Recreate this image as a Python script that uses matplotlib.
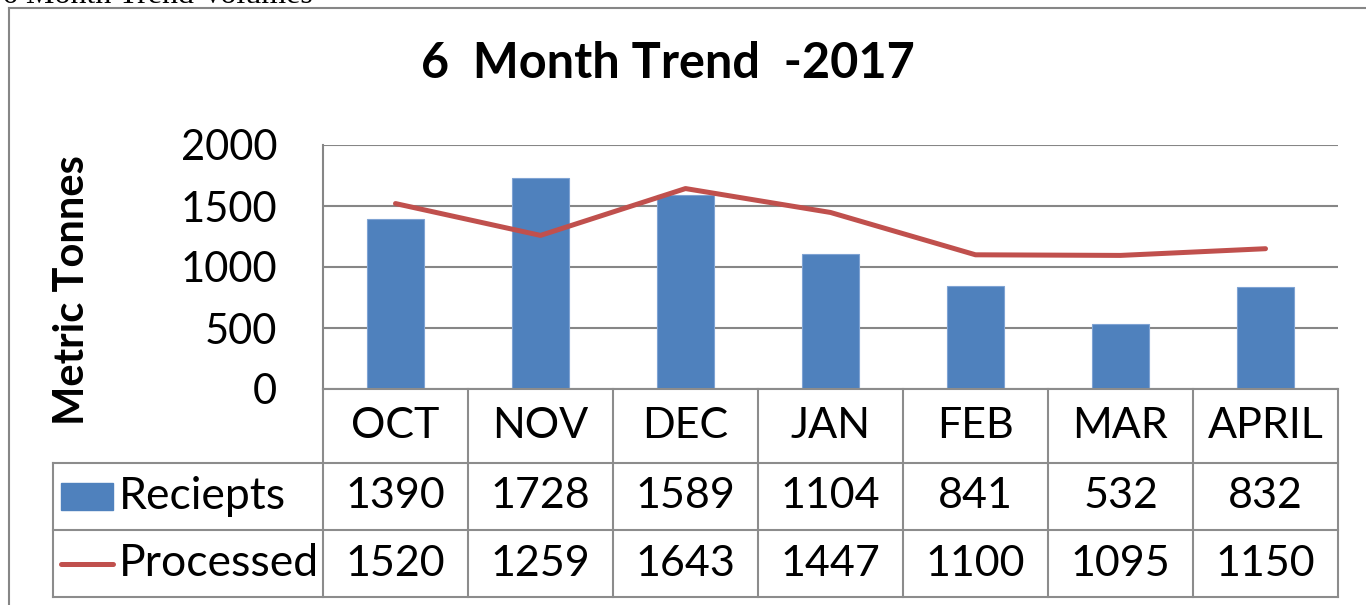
import matplotlib
matplotlib.use("Agg")
import matplotlib.pyplot as plt
import matplotlib.transforms as mtransforms
from matplotlib.patches import Rectangle
from matplotlib.lines import Line2D

months = ["OCT", "NOV", "DEC", "JAN", "FEB", "MAR", "APRIL"]
receipts = [1390, 1728, 1589, 1104, 841, 532, 832]
processed = [1520, 1259, 1643, 1447, 1100, 1095, 1150]
series_names = ["Reciepts", "Processed"]
yticks = [0, 500, 1000, 1500, 2000]
title = "6  Month Trend  -2017"
ylabel = "Metric Tonnes"
page_title = "6 Month Trend Volumes"

W, H = 1366, 605
BAR_C = "#4F81BD"
LINE_C = "#C0504D"
GRID_C = "#868686"
FONT = "Lato"
FS = 31

fig = plt.figure(figsize=(W / 100, H / 100), dpi=100)
fig.patch.set_facecolor("white")

def fx(px):
    return px / W

def fy(py):
    return 1 - py / H

# plot area
L, R, T, B = 323, 1338, 145, 389
ax = fig.add_axes([fx(L), fy(B), fx(R) - fx(L), fy(T) - fy(B)])
x = list(range(len(months)))
ax.bar(x, receipts, width=0.39, color=BAR_C, edgecolor="#7FA3D3", linewidth=0.8, zorder=3)
ax.plot(x, processed, color=LINE_C, lw=3.6, solid_capstyle="round", solid_joinstyle="round", zorder=4)
ax.set_xlim(-0.5, len(months) - 0.5)
ax.set_ylim(0, 2000)
ax.set_yticks(yticks)
ax.set_yticklabels([str(t) for t in yticks], fontsize=30, fontfamily=FONT)
ax.tick_params(axis="y", length=0, pad=33)
ax.set_xticks([])
ax.grid(axis="y", color=GRID_C, lw=1.5, zorder=0)
for s in ["top", "right", "bottom"]:
    ax.spines[s].set_visible(False)
ax.spines["left"].set_color(GRID_C)
ax.spines["left"].set_linewidth(1.5)

# data table
bt = mtransforms.blended_transform_factory(ax.transData, fig.transFigure)
TC = "#8C8C8C"
rows_y = [389, 463, 530, 597]
n = len(months)
fig.add_artist(Line2D([fx(L), fx(R)], [fy(389), fy(389)], color=TC, lw=1.5))
for yy in rows_y[1:]:
    fig.add_artist(Line2D([fx(53), fx(R)], [fy(yy), fy(yy)], color=TC, lw=1.5))
for i in range(n + 1):
    fig.add_artist(Line2D([i - 0.5, i - 0.5], [fy(389), fy(597)], color=TC, lw=1.5, transform=bt))
fig.add_artist(Line2D([fx(53), fx(53)], [fy(463), fy(597)], color=TC, lw=1.5))

for i, m in enumerate(months):
    fig.text(i, fy(426), m, transform=bt, ha="center", va="center", fontsize=FS, fontfamily=FONT)
    fig.text(i, fy(496.5), str(receipts[i]), transform=bt, ha="center", va="center", fontsize=FS, fontfamily=FONT)
    fig.text(i, fy(563.5), str(processed[i]), transform=bt, ha="center", va="center", fontsize=FS, fontfamily=FONT)

# legend keys
fig.add_artist(Rectangle((fx(61), fy(510)), fx(113) - fx(61), fy(483) - fy(510), color=BAR_C))
fig.add_artist(Line2D([fx(61), fx(113)], [fy(564), fy(564)], color=LINE_C, lw=3.6, solid_capstyle="round"))
fig.text(fx(119), fy(496.5), series_names[0], ha="left", va="center", fontsize=FS + 1, fontfamily=FONT)
fig.text(fx(119), fy(563.5), series_names[1], ha="left", va="center", fontsize=FS + 1, fontfamily=FONT)

# title & ylabel
fig.text(fx(668), fy(64), title, ha="center", va="center", fontsize=35, fontweight="bold", fontfamily=FONT)
fig.text(fx(72), fy(290), ylabel, ha="center", va="center", rotation=90, fontsize=30, fontweight="bold", fontfamily=FONT)

# outer frame (extends beyond the image on right/bottom)
fig.add_artist(Line2D([fx(8.5), fx(8.5)], [fy(8), fy(620)], color=GRID_C, lw=1.5))
fig.add_artist(Line2D([fx(8.5), fx(1380)], [fy(8), fy(8)], color=GRID_C, lw=1.5))

# clipped page header text (cut off at the top edge, as in the source)
fig.text(fx(2), fy(3), page_title, ha="left", va="baseline", fontsize=23, fontfamily="Liberation Serif")

fig.savefig("out.png", dpi=100)
